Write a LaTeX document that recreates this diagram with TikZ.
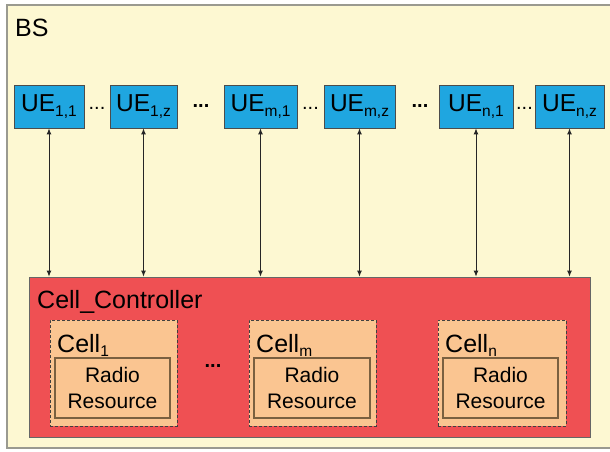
\documentclass[tikz,border=0pt]{standalone}
\usepackage{fontspec}
\setmainfont{Liberation Sans}
\usetikzlibrary{arrows.meta}
\definecolor{bsfill}{HTML}{FDF8D2}
\definecolor{bsline}{HTML}{9A9A90}
\definecolor{uefill}{HTML}{1FA6E0}
\definecolor{ccfill}{HTML}{EF5053}
\definecolor{cellfill}{HTML}{FAC591}
\definecolor{rrline}{HTML}{7A6040}
\tikzset{
  uebox/.style={draw=black!70, line width=0.8pt, fill=uefill, inner sep=0pt, minimum height=43pt,
    font=\fontsize{24.5}{26}\selectfont},
  cellbox/.style={draw=black!75, densely dashed, line width=0.8pt, fill=cellfill},
  rrbox/.style={draw=rrline, line width=1.2pt, fill=cellfill, align=center, inner sep=0pt,
    font=\fontsize{21}{26}\selectfont},
  link/.style={draw=black!85, line width=0.9pt, {Latex[length=6pt,width=5pt]}-{Latex[length=6pt,width=5pt]}},
  dots/.style={font=\fontsize{20}{20}\selectfont},
  bdots/.style={font=\bfseries\fontsize{20}{20}\selectfont},
  lbl/.style={font=\fontsize{25}{26}\selectfont, inner sep=0pt, anchor=base west},
}
\newcommand{\sub}[1]{\raisebox{-4.5pt}{\fontsize{15.5}{15}\selectfont #1}}
\begin{document}
\begin{tikzpicture}[x=1pt,y=-1pt]
\useasboundingbox (0,0) rectangle (610,451);
\fill[white] (0,0) rectangle (610,451);
\draw[bsline, fill=bsfill, line width=1.2pt] (7,5) rectangle (616,448);
\node[lbl] (bs) at (15,36) {BS};
% UEs
\node[uebox, minimum width=70pt] (ue11) at (49,106.5) {UE\sub{1,1}};
\node[uebox, minimum width=67pt] (ue1z) at (143.5,106.5) {UE\sub{1,z}};
\node[uebox, minimum width=73pt] (uem1) at (260.5,106.5) {UE\sub{m,1}};
\node[uebox, minimum width=71pt] (uemz) at (359.5,106.5) {UE\sub{m,z}};
\node[uebox, minimum width=74pt] (uen1) at (476,106.5) {UE\sub{n,1}};
\node[uebox, minimum width=69pt] (uenz) at (569.5,106.5) {UE\sub{n,z}};
\node[dots] (d1) at (97,108) {...};
\node[bdots] (d2) at (201,106) {...};
\node[dots] (d3) at (310.5,108) {...};
\node[bdots] (d4) at (420,106) {...};
\node[dots] (d5) at (524.5,108) {...};
% controller
\node[draw=black!60, line width=0.8pt, fill=ccfill, minimum width=561pt, minimum height=160pt, inner sep=0pt] (cc) at (309.5,357) {};
\node[lbl] (cctext) at (37,308) {Cell\_Controller};
% cells
\node[cellbox, minimum width=127pt, minimum height=106pt, inner sep=0pt] (c1) at (113.5,373) {};
\node[cellbox, minimum width=127pt, minimum height=106pt, inner sep=0pt] (cm) at (312.5,373) {};
\node[cellbox, minimum width=128pt, minimum height=106pt, inner sep=0pt] (cn) at (502,373) {};
\node[lbl] (c1t) at (57,352) {Cell\sub{1}};
\node[lbl] (cmt) at (256,352) {Cell\sub{m}};
\node[lbl] (cnt) at (445,352) {Cell\sub{n}};
\node[rrbox, minimum width=115pt, minimum height=60pt] (rr1) at (112.5,388) {Radio\\Resource};
\node[rrbox, minimum width=116pt, minimum height=60pt] (rrm) at (312,388) {Radio\\Resource};
\node[rrbox, minimum width=115pt, minimum height=60pt] (rrn) at (500.5,388) {Radio\\Resource};
\node[bdots] (d6) at (213,366) {...};
% links
\foreach \u in {ue11,ue1z,uem1,uemz,uen1,uenz}{
  \draw[link] (\u.south) -- (\u.south |- cc.north);
}
\end{tikzpicture}
\end{document}
